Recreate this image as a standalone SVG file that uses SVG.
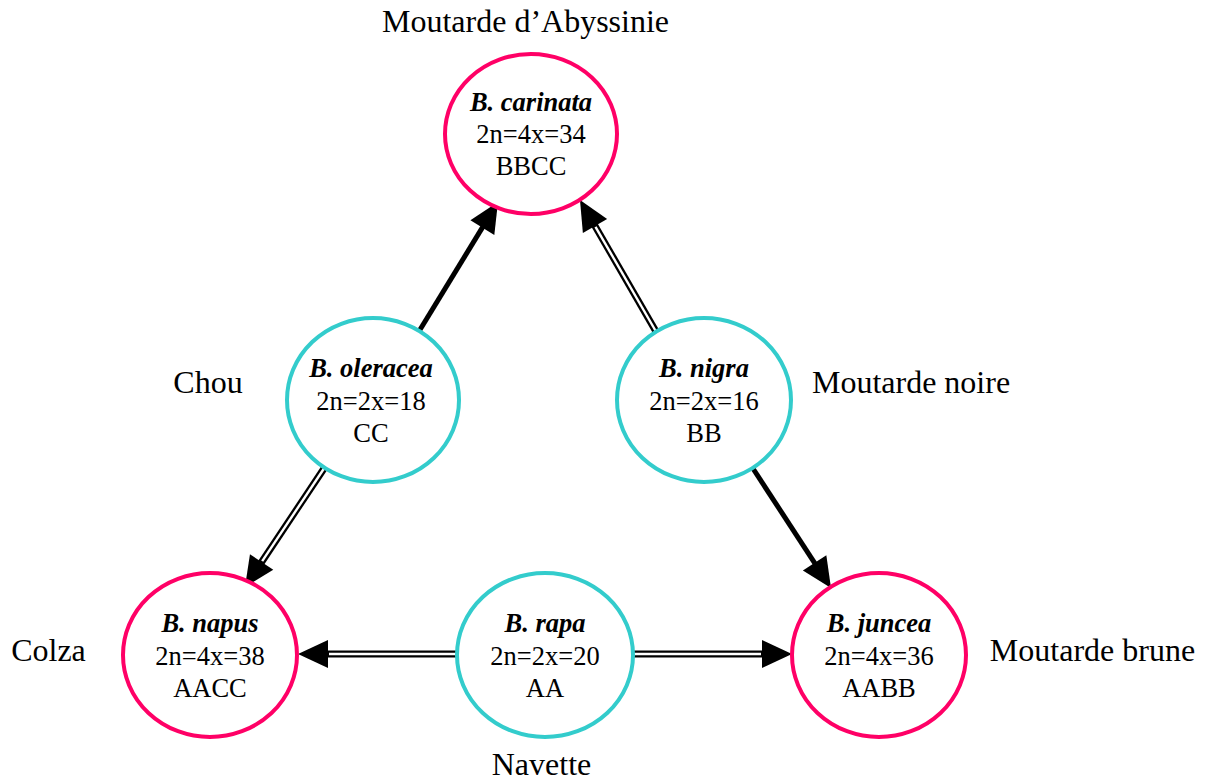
<svg xmlns="http://www.w3.org/2000/svg" width="1208" height="782" viewBox="0 0 1208 782">
<style>
text{font-family:"Liberation Serif","Times New Roman",serif;fill:#000}
.n{font-size:26.5px;text-anchor:middle}
.sp{font-weight:bold;font-style:italic}
.lab{font-size:32px;text-anchor:middle}
.tetra{fill:#fff;stroke:#FF0066;stroke-width:4}
.dip{fill:#fff;stroke:#33CCCC;stroke-width:4}
.thick{stroke:#000;stroke-width:5;fill:none;marker-end:url(#ah)}
.dbl{stroke:#000;stroke-width:7;fill:none;marker-end:url(#ah)}
.dblw{stroke:#fff;stroke-width:2.4;fill:none}
</style>
<defs>
<marker id="ah" markerUnits="userSpaceOnUse" markerWidth="32" markerHeight="30" refX="2" refY="14" orient="auto" overflow="visible">
<path d="M0,0 L30,14 L0,28 Z" fill="#000"/>
</marker>
</defs>
<rect width="1208" height="782" fill="#fff"/>
<g id="connectors">
<line class="thick" x1="418" y1="333" x2="483.4" y2="225.9"/>
<line class="dbl" x1="658" y1="335" x2="594" y2="224.2"/>
<line class="dblw" x1="658" y1="335" x2="595.5" y2="226.8"/>
<line class="dbl" x1="325" y1="467" x2="260.5" y2="563.7"/>
<line class="dblw" x1="325" y1="467" x2="262.2" y2="561.2"/>
<line class="dbl" x1="459" y1="654" x2="326" y2="654"/>
<line class="dblw" x1="459" y1="654" x2="329" y2="654"/>
<line class="dbl" x1="631" y1="654" x2="764" y2="654"/>
<line class="dblw" x1="631" y1="654" x2="761" y2="654"/>
<line class="thick" x1="752" y1="467" x2="815.7" y2="564.6"/>
</g>
<g id="carinata">
<ellipse class="tetra" cx="531" cy="134" rx="86" ry="80"/>
<text class="n sp" x="531" y="111">B. carinata</text>
<text class="n" x="531" y="143">2n=4x=34</text>
<text class="n" x="531" y="175">BBCC</text>
</g>
<g id="oleracea">
<ellipse class="dip" cx="373" cy="400" rx="86" ry="82"/>
<text class="n sp" x="371" y="377">B. oleracea</text>
<text class="n" x="371" y="410">2n=2x=18</text>
<text class="n" x="371" y="442">CC</text>
</g>
<g id="nigra">
<ellipse class="dip" cx="704" cy="400" rx="87" ry="82"/>
<text class="n sp" x="704" y="377">B. nigra</text>
<text class="n" x="704" y="410">2n=2x=16</text>
<text class="n" x="704" y="442">BB</text>
</g>
<g id="napus">
<ellipse class="tetra" cx="210" cy="655" rx="87" ry="82"/>
<text class="n sp" x="210" y="632">B. napus</text>
<text class="n" x="210" y="665">2n=4x=38</text>
<text class="n" x="210" y="697">AACC</text>
</g>
<g id="rapa">
<ellipse class="dip" cx="545" cy="655" rx="88" ry="82"/>
<text class="n sp" x="545" y="632">B. rapa</text>
<text class="n" x="545" y="665">2n=2x=20</text>
<text class="n" x="545" y="697">AA</text>
</g>
<g id="juncea">
<ellipse class="tetra" cx="879" cy="655" rx="87" ry="82"/>
<text class="n sp" x="879" y="632">B. juncea</text>
<text class="n" x="879" y="665">2n=4x=36</text>
<text class="n" x="879" y="697">AABB</text>
</g>
<g id="labels">
<text class="lab" x="525.5" y="32">Moutarde d’Abyssinie</text>
<text class="lab" x="208" y="393">Chou</text>
<text class="lab" x="911" y="393">Moutarde noire</text>
<text class="lab" x="48.5" y="661">Colza</text>
<text class="lab" x="1092.5" y="661">Moutarde brune</text>
<text class="lab" x="541.5" y="775">Navette</text>
</g>
</svg>
